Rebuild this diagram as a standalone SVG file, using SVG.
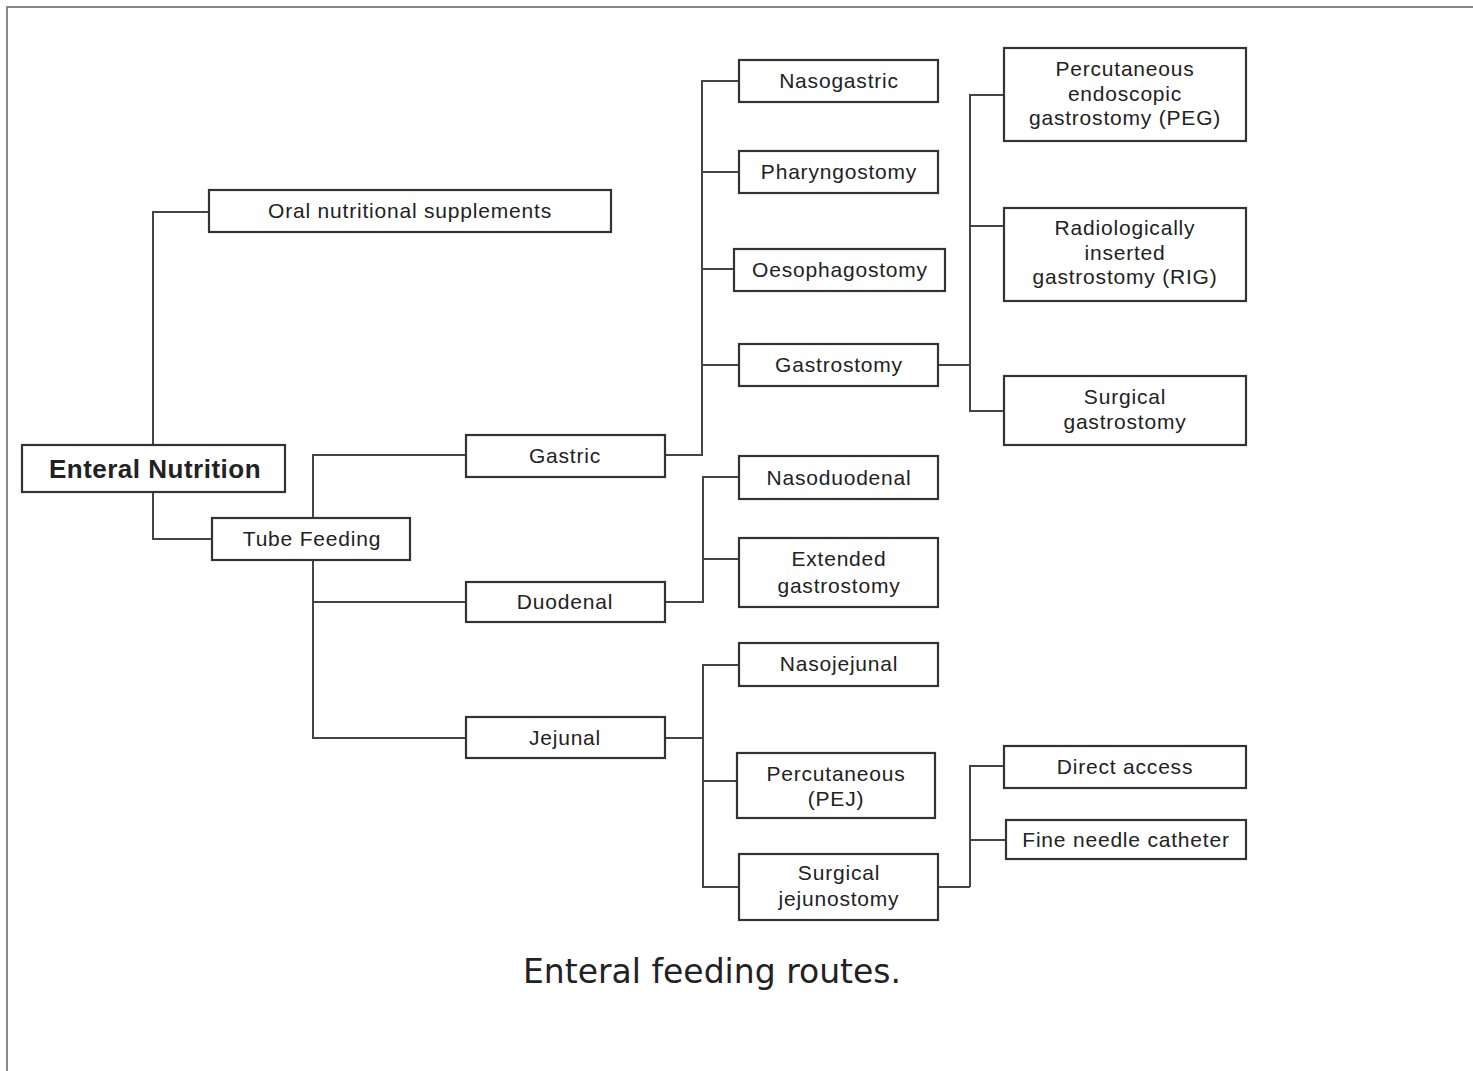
<svg xmlns="http://www.w3.org/2000/svg" width="1473" height="1071" viewBox="0 0 1473 1071">
<style>
.box{fill:#fff;stroke:#333;stroke-width:2.2}
.t{font-family:"Liberation Sans",Arial,sans-serif;font-size:21px;fill:#222;text-anchor:middle;letter-spacing:0.8px}
.b{font-family:"Liberation Sans",Arial,sans-serif;font-size:26px;font-weight:bold;fill:#222;text-anchor:middle;letter-spacing:0.5px}
.c{fill:none;stroke:#444;stroke-width:2}
.cap{font-family:"DejaVu Sans",Verdana,sans-serif;font-size:33px;fill:#222;text-anchor:middle}
</style>
<rect width="1473" height="1071" fill="#fff"/>
<path d="M7,1071 V7 H1473" fill="none" stroke="#888" stroke-width="2"/>
<g id="connectors">
<path class="c" d="M209,212 H153 V445 M153,492 V539 H212"/>
<path class="c" d="M466,455 H313 V518 M313,560 V738 H466 M313,602 H466"/>
<path class="c" d="M665,455 H702 V81 H739 M702,172 H739 M702,269 H734 M702,365 H739"/>
<path class="c" d="M938,365 H970 M1004,95 H970 V411 H1004 M970,226 H1004"/>
<path class="c" d="M665,602 H703 V477 H739 M703,559 H739"/>
<path class="c" d="M665,738 H703 M739,665 H703 V887 H739 M703,781 H737"/>
<path class="c" d="M938,887 H970 M1004,766 H970 V887 M970,840 H1006"/>
</g>
<g id="n-enteral"><rect class="box" x="22" y="445" width="263" height="47"/><text class="b" x="155" y="478">Enteral Nutrition</text></g>
<g id="n-oral"><rect class="box" x="209" y="190" width="402" height="42"/><text class="t" x="410" y="218">Oral nutritional supplements</text></g>
<g id="n-tube"><rect class="box" x="212" y="518" width="198" height="42"/><text class="t" x="312" y="546">Tube Feeding</text></g>
<g id="n-gastric"><rect class="box" x="466" y="435" width="199" height="42"/><text class="t" x="565" y="463">Gastric</text></g>
<g id="n-duodenal"><rect class="box" x="466" y="582" width="199" height="40"/><text class="t" x="565" y="609">Duodenal</text></g>
<g id="n-jejunal"><rect class="box" x="466" y="717" width="199" height="41"/><text class="t" x="565" y="745">Jejunal</text></g>
<g id="n-nasogastric"><rect class="box" x="739" y="60" width="199" height="42"/><text class="t" x="839" y="88">Nasogastric</text></g>
<g id="n-pharyngostomy"><rect class="box" x="739" y="151" width="199" height="42"/><text class="t" x="839" y="179">Pharyngostomy</text></g>
<g id="n-oesophagostomy"><rect class="box" x="734" y="249" width="211" height="42"/><text class="t" x="840" y="277">Oesophagostomy</text></g>
<g id="n-gastrostomy"><rect class="box" x="739" y="344" width="199" height="42"/><text class="t" x="839" y="372">Gastrostomy</text></g>
<g id="n-nasoduodenal"><rect class="box" x="739" y="456" width="199" height="43"/><text class="t" x="839" y="485">Nasoduodenal</text></g>
<g id="n-extended"><rect class="box" x="739" y="538" width="199" height="69"/><text class="t" x="839" y="566">Extended</text><text class="t" x="839" y="593">gastrostomy</text></g>
<g id="n-nasojejunal"><rect class="box" x="739" y="643" width="199" height="43"/><text class="t" x="839" y="671">Nasojejunal</text></g>
<g id="n-pej"><rect class="box" x="737" y="753" width="198" height="65"/><text class="t" x="836" y="781">Percutaneous</text><text class="t" x="836" y="806">(PEJ)</text></g>
<g id="n-surgjej"><rect class="box" x="739" y="854" width="199" height="66"/><text class="t" x="839" y="880">Surgical</text><text class="t" x="839" y="906">jejunostomy</text></g>
<g id="n-peg"><rect class="box" x="1004" y="48" width="242" height="93"/><text class="t" x="1125" y="76">Percutaneous</text><text class="t" x="1125" y="101">endoscopic</text><text class="t" x="1125" y="125">gastrostomy (PEG)</text></g>
<g id="n-rig"><rect class="box" x="1004" y="208" width="242" height="93"/><text class="t" x="1125" y="235">Radiologically</text><text class="t" x="1125" y="260">inserted</text><text class="t" x="1125" y="284">gastrostomy (RIG)</text></g>
<g id="n-surggas"><rect class="box" x="1004" y="376" width="242" height="69"/><text class="t" x="1125" y="404">Surgical</text><text class="t" x="1125" y="429">gastrostomy</text></g>
<g id="n-direct"><rect class="box" x="1004" y="746" width="242" height="42"/><text class="t" x="1125" y="774">Direct access</text></g>
<g id="n-fine"><rect class="box" x="1006" y="820" width="240" height="39"/><text class="t" x="1126" y="847">Fine needle catheter</text></g>
<text class="cap" x="712" y="983">Enteral feeding routes.</text>
</svg>
